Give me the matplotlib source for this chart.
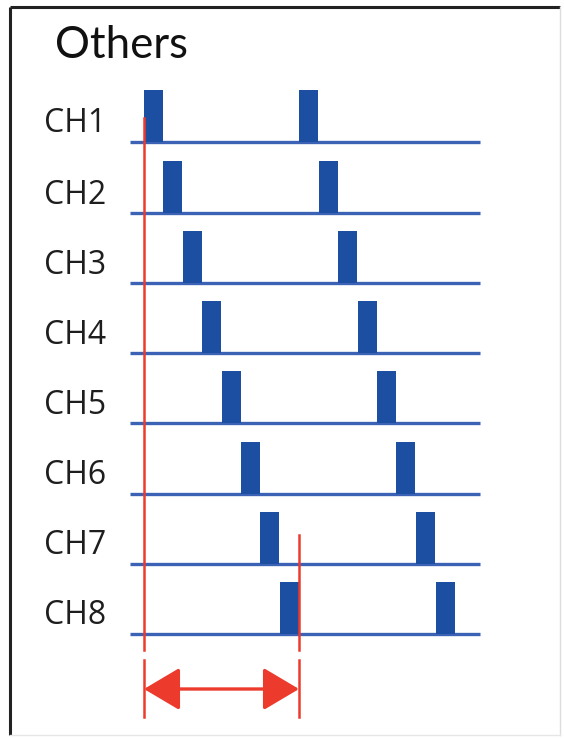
import matplotlib
matplotlib.use("Agg")
import matplotlib.pyplot as plt
from matplotlib.patches import Rectangle, FancyArrowPatch

# ---- data ----
channels = ["CH1", "CH2", "CH3", "CH4", "CH5", "CH6", "CH7", "CH8"]
first_pulse = [144, 163, 183, 202, 222, 241, 260, 280]
second_pulse = [299, 319, 338, 358, 377, 396, 416, 436]
pulse_width = 19
pulse_height = 52
baseline_y = [142, 213, 283, 353, 423, 494, 564, 634]
line_start, line_end = 130, 480
marker_left = 144
marker_right = 299
title = "Others"

BLUE = "#1c4fa1"
BLUE_LINE = "#3b62b5"
RED = "#ec3a2c"

fig = plt.figure(figsize=(5.64, 7.38), dpi=100)
ax = fig.add_axes([0, 0, 1, 1])
ax.set_xlim(0, 564)
ax.set_ylim(738, 0)
ax.axis("off")

# frame (screenshot-like)
ax.plot([9.5, 9.5], [6.5, 735], color="#222222", lw=2.2, solid_capstyle="butt")
ax.plot([9.5, 560], [6.5, 6.5], color="#222222", lw=2.2, solid_capstyle="butt")
ax.plot([560, 560], [6.5, 735], color="#dddddd", lw=1.0)
ax.plot([9.5, 560], [735, 735], color="#e6e6e6", lw=1.0)

ax.text(55, 46, title, fontsize=31.5, family=["Lato", "DejaVu Sans"],
        ha="left", va="center", color="#111111")

for name, y, p1, p2 in zip(channels, baseline_y, first_pulse, second_pulse):
    ax.plot([line_start, line_end], [y, y], color=BLUE_LINE, lw=2.4,
            solid_capstyle="butt", zorder=2)
    for p in (p1, p2):
        ax.add_patch(Rectangle((p, y - pulse_height), pulse_width, pulse_height,
                               facecolor=BLUE, edgecolor="none", zorder=3))
    ax.text(44, y - 18, name, fontsize=23, family=["Open Sans", "DejaVu Sans"],
            ha="left", va="center", color="#1e1e1e")

# red marker lines
ax.plot([marker_left, marker_left], [118, 650], color=RED, lw=1.8, zorder=4)
ax.plot([marker_right, marker_right], [535, 650], color=RED, lw=1.8, zorder=4)
ax.plot([marker_left, marker_left], [660, 717], color=RED, lw=1.8, zorder=4)
ax.plot([marker_right, marker_right], [660, 717], color=RED, lw=1.8, zorder=4)

arrow = FancyArrowPatch((marker_left, 689), (marker_right, 689),
                        arrowstyle="<|-|>,head_length=1.6,head_width=0.95",
                        mutation_scale=14, color=RED, lw=2.4,
                        shrinkA=0, shrinkB=0, zorder=4)
ax.add_patch(arrow)

fig.savefig("out.png", dpi=100)
